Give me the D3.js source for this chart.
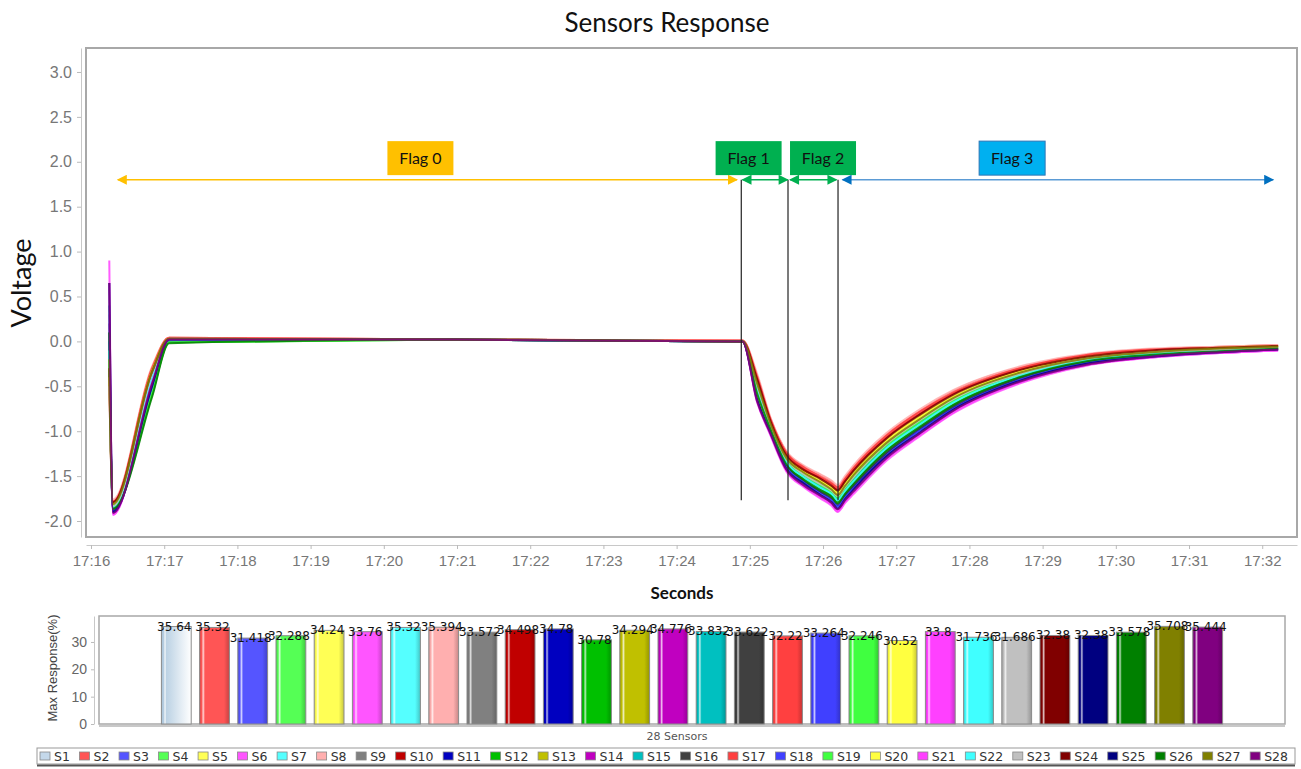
<!DOCTYPE html>
<html>
<head>
<meta charset="utf-8">
<script src="https://cdn.jsdelivr.net/npm/d3@7"></script>
<style>
  body { margin: 0; background: #fff; }
</style>
</head>
<body>
<div id="chart"></div>
<script>
"use strict"

const sensorNames = ["S1", "S2", "S3", "S4", "S5", "S6", "S7", "S8", "S9", "S10",
  "S11", "S12", "S13", "S14", "S15", "S16", "S17", "S18", "S19", "S20",
  "S21", "S22", "S23", "S24", "S25", "S26", "S27", "S28"];

const sensorColors = ["#c4d8ea", "#ff5555", "#5555ff", "#55ff55", "#ffff55", "#ff55ff", "#55ffff",
  "#ffafaf", "#808080", "#c00000", "#0000c0", "#00c000", "#c0c000", "#c000c0", "#00c0c0",
  "#404040", "#ff4040", "#4040ff", "#40ff40", "#ffff40", "#ff40ff", "#40ffff", "#c0c0c0",
  "#800000", "#000080", "#008000", "#808000", "#800080"];

// max response (%) per sensor, bottom chart
const maxResponse = [35.64, 35.32, 31.418, 32.288, 34.24, 33.76, 35.32, 35.394, 33.572, 34.498,
  34.78, 30.78, 34.294, 34.776, 33.832, 33.622, 32.22, 33.264, 32.246, 30.52,
  33.8, 31.736, 31.686, 32.38, 32.38, 33.578, 35.708, 35.444];

// seconds after 17:16:00
const timeSeconds = [15, 18, 50, 64, 300, 534, 546, 557, 570, 584, 598, 607, 612, 618, 625, 652, 680, 707, 761, 816, 870, 925, 973];

const voltageS1  = [-0.3, -1.82, -0.35, 0.03, 0.02, 0, -0.51, -0.94, -1.32, -1.49, -1.60, -1.68, -1.74, -1.64, -1.52, -1.16, -0.89, -0.66, -0.37, -0.20, -0.13, -0.09, -0.07];
const voltageS2  = [-0.2, -1.78, -0.30, 0.04, 0.02, 0.01, -0.40, -0.86, -1.23, -1.39, -1.49, -1.56, -1.62, -1.52, -1.40, -1.04, -0.77, -0.55, -0.29, -0.15, -0.09, -0.06, -0.04];
const voltageS3  = [-0.1, -1.88, -0.45, 0.02, 0.02, 0, -0.55, -0.99, -1.38, -1.55, -1.67, -1.75, -1.81, -1.71, -1.60, -1.24, -0.96, -0.72, -0.41, -0.23, -0.15, -0.11, -0.08];
const voltageS4  = [0.0, -1.84, -0.55, 0.00, 0.02, 0, -0.48, -0.95, -1.34, -1.50, -1.62, -1.69, -1.75, -1.65, -1.54, -1.18, -0.90, -0.67, -0.38, -0.21, -0.13, -0.10, -0.07];
const voltageS5  = [-0.4, -1.80, -0.30, 0.03, 0.02, 0, -0.62, -1.00, -1.29, -1.45, -1.56, -1.63, -1.69, -1.59, -1.48, -1.11, -0.84, -0.62, -0.34, -0.18, -0.11, -0.07, -0.05];
const voltageS6  = [0.3, -1.93, -0.40, 0.03, 0.02, 0, -0.66, -1.05, -1.45, -1.62, -1.75, -1.83, -1.90, -1.80, -1.70, -1.33, -1.05, -0.80, -0.47, -0.27, -0.18, -0.13, -0.10];
const voltageS7  = [-0.2, -1.85, -0.38, 0.03, 0.02, 0, -0.52, -0.96, -1.35, -1.51, -1.63, -1.70, -1.77, -1.67, -1.56, -1.19, -0.92, -0.68, -0.38, -0.21, -0.14, -0.10, -0.07];
const voltageS8  = [-0.3, -1.76, -0.28, 0.04, 0.02, 0.01, -0.36, -0.85, -1.22, -1.38, -1.48, -1.55, -1.60, -1.50, -1.38, -1.02, -0.75, -0.54, -0.28, -0.14, -0.08, -0.06, -0.04];
const voltageS9  = [-0.1, -1.86, -0.42, 0.02, 0.02, 0, -0.50, -0.97, -1.36, -1.52, -1.64, -1.72, -1.78, -1.68, -1.57, -1.21, -0.93, -0.70, -0.39, -0.22, -0.14, -0.10, -0.08];
const voltageS10 = [-0.5, -1.79, -0.32, 0.03, 0.02, 0, -0.42, -0.88, -1.25, -1.42, -1.52, -1.59, -1.65, -1.55, -1.43, -1.07, -0.80, -0.58, -0.31, -0.16, -0.10, -0.07, -0.05];
const voltageS11 = [0.1, -1.89, -0.50, 0.01, 0.02, 0, -0.58, -1.00, -1.39, -1.56, -1.68, -1.76, -1.83, -1.73, -1.62, -1.25, -0.98, -0.74, -0.42, -0.24, -0.16, -0.11, -0.09];
const voltageS12 = [-0.2, -1.85, -0.60, -0.01, 0.02, 0, -0.56, -0.97, -1.36, -1.52, -1.64, -1.72, -1.78, -1.68, -1.57, -1.21, -0.93, -0.70, -0.39, -0.22, -0.14, -0.10, -0.08];
const voltageS13 = [-0.3, -1.80, -0.35, 0.03, 0.02, 0, -0.44, -0.90, -1.28, -1.44, -1.55, -1.62, -1.68, -1.58, -1.46, -1.10, -0.83, -0.61, -0.33, -0.17, -0.11, -0.08, -0.06];
const voltageS14 = [0.2, -1.91, -0.45, 0.02, 0.02, 0, -0.64, -1.03, -1.43, -1.60, -1.72, -1.80, -1.87, -1.77, -1.67, -1.30, -1.02, -0.77, -0.45, -0.26, -0.17, -0.12, -0.09];
const voltageS15 = [0.4, -1.84, -0.40, 0.03, 0.02, 0, -0.53, -0.95, -1.34, -1.50, -1.62, -1.69, -1.75, -1.65, -1.54, -1.18, -0.90, -0.67, -0.38, -0.21, -0.13, -0.10, -0.07];
const voltageS16 = [-0.3, -1.87, -0.48, 0.02, 0.02, 0, -0.57, -0.99, -1.38, -1.55, -1.67, -1.75, -1.81, -1.71, -1.60, -1.24, -0.96, -0.72, -0.41, -0.23, -0.15, -0.11, -0.08];
const voltageS17 = [-0.4, -1.78, -0.30, 0.04, 0.02, 0.01, -0.39, -0.87, -1.24, -1.40, -1.51, -1.58, -1.63, -1.53, -1.41, -1.05, -0.78, -0.57, -0.30, -0.15, -0.09, -0.07, -0.05];
const voltageS18 = [0.0, -1.90, -0.52, 0.01, 0.02, 0, -0.61, -1.01, -1.40, -1.57, -1.70, -1.77, -1.84, -1.74, -1.64, -1.27, -0.99, -0.75, -0.43, -0.24, -0.16, -0.12, -0.09];
const voltageS19 = [-0.2, -1.83, -0.58, -0.01, 0.02, 0, -0.49, -0.94, -1.32, -1.49, -1.60, -1.68, -1.74, -1.64, -1.52, -1.16, -0.89, -0.66, -0.37, -0.20, -0.13, -0.09, -0.07];
const voltageS20 = [-0.4, -1.81, -0.33, 0.03, 0.02, 0, -0.58, -0.97, -1.29, -1.45, -1.56, -1.63, -1.69, -1.59, -1.48, -1.11, -0.84, -0.62, -0.34, -0.18, -0.11, -0.07, -0.05];
const voltageS21 = [0.9, -1.93, -0.42, 0.03, 0.02, 0, -0.68, -1.04, -1.44, -1.61, -1.74, -1.82, -1.89, -1.79, -1.68, -1.31, -1.04, -0.79, -0.46, -0.26, -0.18, -0.13, -0.10];
const voltageS22 = [-0.1, -1.85, -0.40, 0.02, 0.02, 0, -0.54, -0.96, -1.35, -1.51, -1.63, -1.70, -1.77, -1.67, -1.56, -1.19, -0.92, -0.68, -0.38, -0.21, -0.14, -0.10, -0.07];
const voltageS23 = [-0.5, -1.83, -0.36, 0.03, 0.02, 0, -0.49, -0.93, -1.31, -1.48, -1.59, -1.66, -1.72, -1.62, -1.51, -1.14, -0.87, -0.64, -0.36, -0.19, -0.12, -0.09, -0.06];
const voltageS24 = [-0.3, -1.79, -0.34, 0.03, 0.02, 0, -0.42, -0.89, -1.27, -1.43, -1.53, -1.61, -1.66, -1.56, -1.44, -1.08, -0.81, -0.59, -0.32, -0.17, -0.10, -0.07, -0.05];
const voltageS25 = [0.65, -1.90, -0.50, 0.02, 0.02, 0, -0.65, -1.02, -1.42, -1.58, -1.71, -1.79, -1.86, -1.76, -1.65, -1.28, -1.01, -0.76, -0.44, -0.25, -0.17, -0.12, -0.09];
const voltageS26 = [0.1, -1.86, -0.62, -0.02, 0.02, 0, -0.58, -0.98, -1.37, -1.54, -1.66, -1.73, -1.80, -1.70, -1.59, -1.22, -0.95, -0.71, -0.40, -0.22, -0.15, -0.11, -0.08];
const voltageS27 = [-0.2, -1.81, -0.34, 0.03, 0.02, 0, -0.47, -0.92, -1.30, -1.46, -1.57, -1.65, -1.71, -1.61, -1.49, -1.13, -0.86, -0.63, -0.35, -0.19, -0.12, -0.08, -0.06];
const voltageS28 = [0.65, -1.91, -0.47, 0.02, 0.02, 0, -0.67, -1.03, -1.43, -1.60, -1.72, -1.80, -1.87, -1.77, -1.67, -1.30, -1.02, -0.77, -0.45, -0.26, -0.17, -0.12, -0.09];

const voltages = [voltageS1, voltageS2, voltageS3, voltageS4, voltageS5, voltageS6, voltageS7,
  voltageS8, voltageS9, voltageS10, voltageS11, voltageS12, voltageS13, voltageS14,
  voltageS15, voltageS16, voltageS17, voltageS18, voltageS19, voltageS20, voltageS21,
  voltageS22, voltageS23, voltageS24, voltageS25, voltageS26, voltageS27, voltageS28];

const voltageTicks = [-2.0, -1.5, -1.0, -0.5, 0.0, 0.5, 1.0, 1.5, 2.0, 2.5, 3.0];
const responseTicks = [0, 10, 20, 30];

// flag annotations, seconds after 17:16:00
const flagNames = ["Flag 0", "Flag 1", "Flag 2", "Flag 3"];
const flagStart = [22, 534, 573, 616];
const flagEnd = [529.5, 571, 611, 969];
const flagLabelTime = [270, 539, 600, 755];
const flagBoundaries = [533, 571.3, 612.3];

const flagFill = ["#ffc000", "#00b050", "#00b050", "#00b0f0"];
const flagLine = ["#ffc000", "#00b050", "#00b050", "#5b9bd5"];
const flagHead = ["#ffc000", "#00b050", "#00b050", "#0070c0"];

const W = 1301, H = 769;
const t0 = new Date(2021, 0, 1, 17, 16, 0);
function at(s) { return new Date(t0.getTime() + s * 1000); }

let svg = d3.select("#chart")
  .append("svg")
  .attr("width", W)
  .attr("height", H)
  .style("font-family", "Lato, 'Open Sans', sans-serif");

let defs = svg.append("defs");

// ---------- top chart ----------
let x = d3.scaleTime()
  .domain([at(-4.1), at(988.5)])
  .range([86, 1297]);

let y = d3.scaleLinear()
  .domain([-2.178, 3.267])
  .range([537, 48]);

svg.append("text")
  .attr("x", 667)
  .attr("y", 32)
  .attr("text-anchor", "middle")
  .style("font-size", "26px")
  .style("fill", "#111")
  .text("Sensors Response");

svg.append("rect")
  .attr("x", 86).attr("y", 48)
  .attr("width", 1211).attr("height", 489)
  .style("fill", "#fff")
  .style("stroke", "#a8a8a8")
  .style("stroke-width", 2);

let yAxis = svg.append("g")
  .attr("transform", "translate(81,0)")
  .call(d3.axisLeft(y).tickValues(voltageTicks).tickFormat(function(d) { return d.toFixed(1) })
    .tickSize(4).tickSizeOuter(0).tickPadding(5));
yAxis.select(".domain").style("stroke", "#c8c8c8");
yAxis.selectAll(".tick line").style("stroke", "#bbb");
yAxis.selectAll("text")
  .style("font-family", "'Liberation Sans', Arial, sans-serif")
  .style("font-size", "16px")
  .style("fill", "#777");

let xAxis = svg.append("g")
  .attr("transform", "translate(0,545)")
  .call(d3.axisBottom(x).ticks(d3.timeMinute.every(1)).tickFormat(d3.timeFormat("%H:%M"))
    .tickSize(4).tickSizeOuter(0).tickPadding(6));
xAxis.select(".domain").style("stroke", "#c8c8c8");
xAxis.selectAll(".tick line").style("stroke", "#bbb");
xAxis.selectAll("text")
  .style("font-family", "'Liberation Sans', Arial, sans-serif")
  .style("font-size", "15px")
  .style("fill", "#777");

svg.append("text")
  .attr("transform", "translate(31,283) rotate(-90)")
  .attr("text-anchor", "middle")
  .style("font-size", "27px")
  .style("fill", "#111")
  .text("Voltage");

svg.append("text")
  .attr("x", 682)
  .attr("y", 599)
  .attr("text-anchor", "middle")
  .style("font-size", "17px")
  .style("font-weight", "bold")
  .style("fill", "#111")
  .text("Seconds");

let line = d3.line()
  .x(function(v, i) { return x(at(timeSeconds[i])) })
  .y(function(v) { return y(v) })
  .curve(d3.curveMonotoneX);

svg.append("g")
  .selectAll("path")
  .data(voltages)
  .enter()
  .append("path")
  .attr("d", function(d) { return line(d) })
  .style("fill", "none")
  .style("stroke", function(d, i) { return sensorColors[i] })
  .style("stroke-width", 2)
  .style("opacity", 0.85);

// flag boundaries
svg.append("g")
  .selectAll("line")
  .data(flagBoundaries)
  .enter()
  .append("line")
  .attr("x1", function(d) { return x(at(d)) })
  .attr("x2", function(d) { return x(at(d)) })
  .attr("y1", y(1.8))
  .attr("y2", y(-1.77))
  .style("stroke", "#222")
  .style("stroke-width", 1.2);

flagHead.forEach(function(c, i) {
  defs.append("marker")
    .attr("id", "head" + i)
    .attr("viewBox", "0 0 10 10")
    .attr("refX", 9).attr("refY", 5)
    .attr("markerUnits", "userSpaceOnUse")
    .attr("markerWidth", 11).attr("markerHeight", 10)
    .attr("orient", "auto-start-reverse")
    .append("path")
    .attr("d", "M0,0 L10,5 L0,10 Z")
    .style("fill", c);
});

let flags = svg.append("g")
  .selectAll("g")
  .data(flagNames)
  .enter()
  .append("g");

flags.append("line")
  .attr("x1", function(d, i) { return x(at(flagStart[i])) })
  .attr("x2", function(d, i) { return x(at(flagEnd[i])) })
  .attr("y1", y(1.8))
  .attr("y2", y(1.8))
  .style("stroke", function(d, i) { return flagLine[i] })
  .style("stroke-width", 1.3)
  .attr("marker-start", function(d, i) { return "url(#head" + i + ")" })
  .attr("marker-end", function(d, i) { return "url(#head" + i + ")" });

flags.append("rect")
  .attr("x", function(d, i) { return x(at(flagLabelTime[i])) - 33 })
  .attr("y", y(2.23))
  .attr("width", 66)
  .attr("height", 34)
  .style("fill", function(d, i) { return flagFill[i] })
  .style("stroke", function(d, i) { return i == 3 ? "#2e75b6" : "none" })
  .style("stroke-width", 1);

flags.append("text")
  .attr("x", function(d, i) { return x(at(flagLabelTime[i])) })
  .attr("y", y(2.23) + 17)
  .attr("dy", "0.35em")
  .attr("text-anchor", "middle")
  .style("font-size", "16px")
  .style("fill", "#111")
  .text(function(d) { return d });

// ---------- bottom chart ----------
let xb = d3.scaleBand()
  .domain(sensorNames)
  .range([153, 1231])
  .padding(0.22);

let yb = d3.scaleLinear()
  .domain([0, 39.5])
  .range([724, 616]);

svg.append("rect")
  .attr("x", 99).attr("y", 616)
  .attr("width", 1186).attr("height", 108)
  .style("fill", "#fff")
  .style("stroke", "#a8a8a8")
  .style("stroke-width", 1.5);

svg.append("line")
  .attr("x1", 99).attr("x2", 1285)
  .attr("y1", 726).attr("y2", 726)
  .style("stroke", "#c8c8c8")
  .style("stroke-width", 2);

let ybAxis = svg.append("g")
  .attr("transform", "translate(94,0)")
  .call(d3.axisLeft(yb).tickValues(responseTicks).tickSize(3).tickSizeOuter(0).tickPadding(4));
ybAxis.select(".domain").style("stroke", "#c8c8c8");
ybAxis.selectAll(".tick line").style("stroke", "#bbb");
ybAxis.selectAll("text")
  .style("font-family", "'Liberation Sans', Arial, sans-serif")
  .style("font-size", "14px")
  .style("fill", "#666");

svg.append("text")
  .attr("transform", "translate(57,668) rotate(-90)")
  .attr("text-anchor", "middle")
  .style("font-family", "'Liberation Sans', Arial, sans-serif")
  .style("font-size", "13px")
  .style("fill", "#444")
  .text("Max Response(%)");

svg.append("text")
  .attr("x", 677)
  .attr("y", 740)
  .attr("text-anchor", "middle")
  .style("font-family", "'DejaVu Sans', Verdana, sans-serif")
  .style("font-size", "11px")
  .style("fill", "#555")
  .text("28 Sensors");

sensorColors.forEach(function(c, i) {
  let base = d3.color(c);
  let g = defs.append("linearGradient")
    .attr("id", "bar" + i)
    .attr("x1", "0%").attr("x2", "100%")
    .attr("y1", "0%").attr("y2", "0%");
  if (i == 0) {
    g.append("stop").attr("offset", "0%").attr("stop-color", "#a9c3da");
    g.append("stop").attr("offset", "8%").attr("stop-color", "#b6cde0");
    g.append("stop").attr("offset", "12%").attr("stop-color", "#f4f8fb");
    g.append("stop").attr("offset", "17%").attr("stop-color", "#bcd2e4");
    g.append("stop").attr("offset", "100%").attr("stop-color", "#ffffff");
  } else {
    g.append("stop").attr("offset", "0%").attr("stop-color", base.darker(0.5).formatHex());
    g.append("stop").attr("offset", "7%").attr("stop-color", c);
    g.append("stop").attr("offset", "12%").attr("stop-color", d3.interpolateRgb(c, "#fff")(0.75));
    g.append("stop").attr("offset", "18%").attr("stop-color", c);
    g.append("stop").attr("offset", "82%").attr("stop-color", c);
    g.append("stop").attr("offset", "100%").attr("stop-color", base.darker(0.7).formatHex());
  }
});

svg.append("g")
  .selectAll("rect")
  .data(maxResponse)
  .enter()
  .append("rect")
  .attr("x", function(d, i) { return xb(sensorNames[i]) })
  .attr("y", function(d) { return yb(d) })
  .attr("width", xb.bandwidth())
  .attr("height", function(d) { return yb(0) - yb(d) })
  .style("fill", function(d, i) { return "url(#bar" + i + ")" })
  .style("stroke", "#8a8a8a")
  .style("stroke-width", 1);

svg.append("g")
  .selectAll("text")
  .data(maxResponse)
  .enter()
  .append("text")
  .attr("x", function(d, i) { return xb(sensorNames[i]) + xb.bandwidth() / 2 - 2 })
  .attr("y", function(d) { return yb(d) + 4 })
  .attr("text-anchor", "middle")
  .style("font-family", "'DejaVu Sans', Verdana, sans-serif")
  .style("font-size", "12px")
  .style("fill", "#111")
  .text(function(d) { return String(d) });

// legend
let legend = svg.append("g");
legend.append("rect")
  .attr("x", 37).attr("y", 748)
  .attr("width", 1258).attr("height", 16)
  .style("fill", "#fff")
  .style("stroke", "#999")
  .style("stroke-width", 1);
legend.append("line")
  .attr("x1", 37).attr("x2", 1295)
  .attr("y1", 765.5).attr("y2", 765.5)
  .style("stroke", "#555")
  .style("stroke-width", 2);

let items = legend.selectAll("g.item")
  .data(sensorNames)
  .enter()
  .append("g")
  .attr("class", "item");

items.append("rect")
  .attr("width", 10).attr("height", 8)
  .attr("y", 752)
  .style("fill", function(d, i) { return sensorColors[i] })
  .style("stroke", "#888")
  .style("stroke-width", 0.8);

let labels = items.append("text")
  .attr("y", 760.5)
  .style("font-family", "'DejaVu Sans', Verdana, sans-serif")
  .style("font-size", "12.5px")
  .style("fill", "#333")
  .text(function(d) { return d });

let widths = labels.nodes().map(function(n) { return n.getComputedTextLength() });
let used = d3.sum(widths) + sensorNames.length * 14;
let gap = (1288 - 40 - used) / (sensorNames.length - 1);
let pos = 40;
items.each(function(d, i) {
  d3.select(this).select("rect").attr("x", pos);
  d3.select(this).select("text").attr("x", pos + 14);
  pos += 14 + widths[i] + gap;
});
</script>
</body>
</html>
